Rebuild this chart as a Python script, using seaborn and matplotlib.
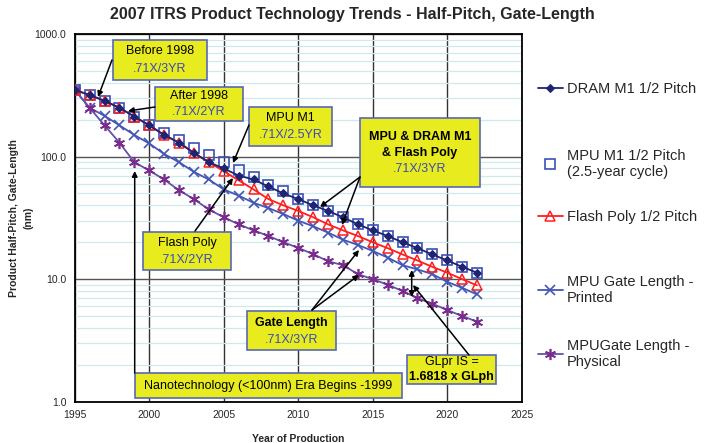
import matplotlib
matplotlib.use("Agg")
import matplotlib.pyplot as plt
from matplotlib.patches import Rectangle
from matplotlib.ticker import FixedLocator, FuncFormatter, LogLocator, NullFormatter
import pandas as pd
import seaborn as sns

# ---- data (nm) -------------------------------------------------------------
years = list(range(1995, 2023))

dram_m1 = [350, 318, 285, 250, 212, 180, 150, 130, 107, 90, 80, 70,
           65, 57, 50, 45, 40, 36, 32, 28, 25, 22.5, 20, 17.9, 15.9, 14.2, 12.6, 11.3]
mpu_m1 = [350, 318, 285, 250, 212, 180, 155, 136, 118, 103, 90, 78,
          68, 59, 52, 45, 40, 36, 32, 28, 25, 22.5, 20, 17.9, 15.9, 14.2, 12.6, 11.3]
flash_poly = [350, 318, 285, 250, 212, 180, 150, 130, 107, 90, 76, 64,
              54, 45, 40, 36, 32, 28, 25, 22.5, 20, 17.9, 15.9, 14.2, 12.6, 11.3, 10, 8.9]
gl_printed = [350, 250, 215, 180, 150, 128, 105, 90, 75, 65, 54, 48,
              42, 38, 34, 30, 27, 24, 21, 19, 17, 15, 13, 12, 11, 9.5, 8.5, 7.5]
gl_physical = [350, 250, 180, 130, 90, 77, 65, 53, 45, 37, 32, 28,
               25, 22.5, 20, 18, 16, 14, 13, 11, 10, 9, 8, 7, 6.3, 5.6, 5, 4.5]

labels = ["DRAM M1 1/2 Pitch",
          "MPU M1 1/2 Pitch\n(2.5-year cycle)",
          "Flash Poly 1/2 Pitch",
          "MPU Gate Length -\nPrinted",
          "MPUGate Length -\nPhysical"]

x_ticks = [1995, 2000, 2005, 2010, 2015, 2020, 2025]
y_ticks = [1, 10, 100, 1000]

title = "2007 ITRS Product Technology Trends - Half-Pitch, Gate-Length"

# ---- style ------------------------------------------------------------------
sns.set_style("white")
plt.rcParams["font.family"] = ["Liberation Sans", "DejaVu Sans"]

W, H = 708, 443
fig = plt.figure(figsize=(W / 100, H / 100), dpi=100)
L, R, T, B = 74.7, 521.7, 34.0, 401.7
ax = fig.add_axes([L / W, 1 - B / H, (R - L) / W, (B - T) / H])


def at(px, py):
    """Canvas pixel position -> axes fraction."""
    return ((px - L) / (R - L), (B - py) / (B - T))


navy = "#1E2470"
sq_blue = "#3B4FB8"
red = "#FF1E1E"
blue = "#4456B4"
purple_line = "#6252A8"
purple = "#7A2C8C"
rate_blue = "#3A4AB8"
box_yellow = "#E8EC1E"
box_edge = "#5868B8"

series = [
    (mpu_m1, dict(marker="s", markersize=6.8, mfc="none", mec=sq_blue, mew=1.2,
                  linestyle="none", color=sq_blue, zorder=3)),
    (flash_poly, dict(marker="^", markersize=7.5, mfc="none", mec=red, mew=1.1,
                      lw=1.3, color=red, zorder=4)),
    (dram_m1, dict(marker="D", markersize=4.2, mfc=navy, mec=navy,
                   lw=1.3, color=navy, zorder=5)),
    (gl_printed, dict(marker="x", markersize=7, mec=blue, mew=1.2,
                      lw=1.3, color=blue, zorder=3)),
    (gl_physical, dict(marker=(6, 2, 0), markersize=8, mec=purple, mew=1.2,
                       lw=1.3, color=purple_line, zorder=3)),
]
order = [2, 0, 1, 3, 4]  # legend order -> index into series

handles = []
for values, kw in series:
    df = pd.DataFrame({"year": years, "nm": values})
    sns.lineplot(data=df, x="year", y="nm", ax=ax, legend=False, **kw)
    handles.append(ax.lines[-1])

# ---- axes ---------------------------------------------------------------------
ax.set_yscale("log")
ax.set_ylim(1, 1000)
ax.set_xlim(1995, 2025)
ax.xaxis.set_major_locator(FixedLocator(x_ticks))
ax.yaxis.set_major_locator(FixedLocator(y_ticks))
ax.yaxis.set_major_formatter(FuncFormatter(lambda v, p: f"{v:.1f}"))
ax.yaxis.set_minor_locator(LogLocator(base=10, subs=range(2, 10)))
ax.yaxis.set_minor_formatter(NullFormatter())
ax.tick_params(axis="both", which="major", direction="out", length=4, width=1,
               labelsize=7.5, color="black", pad=2)
ax.tick_params(axis="y", which="minor", length=0)
ax.set_axisbelow(True)
ax.grid(which="minor", axis="y", color="#CDEBEB", lw=0.9)
ax.grid(which="major", axis="y", color="#555555", lw=1.0)
ax.grid(which="major", axis="x", color="#333333", lw=1.0)
for s in ax.spines.values():
    s.set_color("black")
    s.set_linewidth(1.3)

ax.set_xlabel("Year of Production", fontsize=7.5, weight="bold")
ax.xaxis.set_label_coords(0.5, at(0, 434)[1])
ax.set_ylabel("Product Half-Pitch, Gate-Length\n(nm)", fontsize=7.5,
              weight="bold", linespacing=1.45)
ax.yaxis.set_label_coords(at(33, 0)[0], 0.5)

fig.text(352 / W, 1 - 15 / H, title, ha="center", va="center",
         fontsize=11.5, weight="bold",
         family=["Liberation Sans Narrow", "Liberation Sans", "DejaVu Sans"])

# ---- annotation boxes -------------------------------------------------------


def box(x0, x1, y0, y1, lines):
    bx, by = at(x0, y1)
    ex, ey = at(x1, y0)
    ax.add_patch(Rectangle((bx, by), ex - bx, ey - by, transform=ax.transAxes,
                           facecolor=box_yellow, edgecolor=box_edge, lw=1.2,
                           zorder=7, clip_on=False))
    cx = (x0 + x1) / 2
    for text, py, color, weight in lines:
        ax.text(*at(cx, py), text, transform=ax.transAxes, ha="center",
                va="center", fontsize=9, color=color, weight=weight, zorder=8)


def arrow(start, end, both=False):
    ax.annotate("", xy=at(*end), xytext=at(*start), xycoords="axes fraction",
                textcoords="axes fraction", zorder=9,
                arrowprops=dict(arrowstyle="<|-|>" if both else "-|>",
                                color="black", lw=1.1, mutation_scale=8,
                                shrinkA=0, shrinkB=0))


box(113, 207, 40, 80, [("Before 1998", 51, "black", "normal"),
                       (".71X/3YR", 69, rate_blue, "normal")])
box(155, 243, 87, 121, [("After 1998", 96, "black", "normal"),
                        (".71X/2YR", 112, rate_blue, "normal")])
box(249, 332, 107, 146, [("MPU M1", 118, "black", "normal"),
                         (".71X/2.5YR", 135, rate_blue, "normal")])
box(360, 480, 118, 187, [("MPU & DRAM M1", 137, "black", "bold"),
                         ("& Flash Poly", 153, "black", "bold"),
                         (".71X/3YR", 169, rate_blue, "normal")])
box(143, 231, 232, 270, [("Flash Poly", 243, "black", "normal"),
                         (".71X/2YR", 260, rate_blue, "normal")])
box(135, 402, 373, 398, [("Nanotechnology (<100nm) Era Begins -1999", 386,
                          "black", "normal")])
box(247, 336, 311, 350, [("Gate Length", 323, "black", "bold"),
                         (".71X/3YR", 340, rate_blue, "normal")])
box(407, 496, 355, 384, [("GLpr IS =", 362, "black", "normal"),
                         ("1.6818 x GLph", 377, "black", "bold")])

arrow((112, 60), (98, 97))
arrow((155, 107), (128, 111))
arrow((249, 125), (233, 163))
arrow((360, 177), (320, 207))
arrow((360, 177), (342, 225))
arrow((195, 231), (233, 178))
arrow((134.7, 373), (134.7, 171))
arrow((312, 310), (359, 250))
arrow((312, 310), (359, 275))
arrow((469, 355), (413, 285))
arrow((411.7, 270), (411.7, 297), both=True)

# ---- legend -------------------------------------------------------------------
legend_y = [89, 164, 217, 290, 354]
for i, yc in zip(order, legend_y):
    fig.legend([handles[i]], [labels[order.index(i)]], loc="center left",
               bbox_to_anchor=(538 / W, 1 - yc / H), frameon=False,
               fontsize=10.5, handlelength=1.7, handletextpad=0.3,
               borderpad=0, borderaxespad=0)

fig.savefig("out.png", dpi=100)
